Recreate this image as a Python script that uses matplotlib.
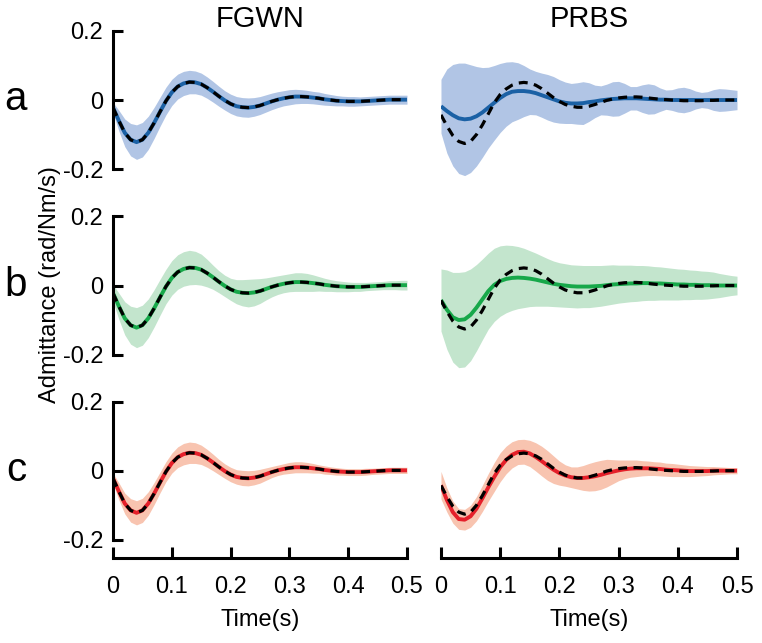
import matplotlib
matplotlib.use("Agg")
import matplotlib.pyplot as plt
import numpy as np

plt.rcParams['font.family'] = ['Liberation Sans', 'DejaVu Sans']
plt.rcParams['axes.unicode_minus'] = False

# time axis (s), 10 ms steps
t = np.linspace(0, 0.5, 51)

# true admittance (dashed), as drawn in each column
true_fgwn = [-0.022, -0.060, -0.095, -0.115, -0.122, -0.115, -0.095, -0.066, -0.034, -0.003,
             0.022, 0.039, 0.048, 0.052, 0.051, 0.046, 0.036, 0.024, 0.011, -0.001,
             -0.011, -0.018, -0.021, -0.022, -0.020, -0.016, -0.010, -0.004, 0.001, 0.005,
             0.008, 0.010, 0.010, 0.009, 0.007, 0.005, 0.002, 0.000, -0.002, -0.003,
             -0.004, -0.004, -0.004, -0.003, -0.002, -0.001, 0.000, 0.001, 0.001, 0.001, 0.001]
true_prbs = [-0.043, -0.075, -0.103, -0.120, -0.126, -0.120, -0.100, -0.072, -0.040, -0.008,
             0.016, 0.032, 0.043, 0.049, 0.051, 0.049, 0.043, 0.033, 0.020, 0.007,
             -0.004, -0.013, -0.018, -0.021, -0.021, -0.018, -0.013, -0.007, -0.001, 0.003,
             0.006, 0.008, 0.009, 0.009, 0.008, 0.006, 0.004, 0.002, 0.001, 0.000,
             -0.001, -0.002, -0.002, -0.002, -0.002, -0.001, -0.001, 0.000, 0.000, 0.000, 0.000]

# estimated admittance (solid); FGWN estimates lie on the true curve
est_fgwn_a = true_fgwn
est_fgwn_b = true_fgwn
est_fgwn_c = true_fgwn
est_prbs_a = [-0.018, -0.032, -0.044, -0.053, -0.056, -0.054, -0.047, -0.036, -0.022, -0.008,
              0.006, 0.017, 0.024, 0.026, 0.026, 0.024, 0.020, 0.014, 0.008, 0.002,
              -0.004, -0.008, -0.010, -0.010, -0.009, -0.006, -0.004, -0.001, 0.001, 0.003,
              0.004, 0.005, 0.005, 0.005, 0.004, 0.003, 0.002, 0.001, 0.001, 0.000,
              0.000, 0.000, 0.000, 0.000, 0.000, 0.000, 0.000, 0.000, 0.000, 0.000, 0.000]
est_prbs_b = [-0.042, -0.070, -0.092, -0.100, -0.098, -0.085, -0.064, -0.040, -0.016, 0.002,
              0.013, 0.019, 0.022, 0.023, 0.022, 0.020, 0.017, 0.013, 0.009, 0.005,
              0.002, 0.000, -0.002, -0.003, -0.003, -0.003, -0.002, -0.001, 0.001, 0.003,
              0.004, 0.005, 0.006, 0.006, 0.007, 0.007, 0.006, 0.006, 0.005, 0.004,
              0.003, 0.003, 0.002, 0.002, 0.001, 0.001, 0.001, 0.000, 0.000, 0.000, 0.000]
est_prbs_c = [-0.042, -0.085, -0.120, -0.140, -0.142, -0.132, -0.110, -0.080, -0.048, -0.018,
              0.010, 0.031, 0.046, 0.054, 0.055, 0.050, 0.040, 0.028, 0.015, 0.003,
              -0.007, -0.014, -0.019, -0.021, -0.021, -0.019, -0.016, -0.012, -0.007, -0.003,
              0.001, 0.004, 0.006, 0.007, 0.007, 0.007, 0.006, 0.005, 0.003, 0.002,
              0.001, 0.000, -0.001, -0.001, -0.001, -0.001, 0.000, 0.000, 0.000, 0.000, 0.000]

# half-width of the shaded band around each estimate
sd_fgwn_a = [0.015, 0.030, 0.040, 0.047, 0.050, 0.050, 0.048, 0.045, 0.042, 0.040,
             0.038, 0.036, 0.035, 0.034, 0.033, 0.032, 0.031, 0.030, 0.029, 0.028,
             0.028, 0.028, 0.028, 0.028, 0.027, 0.026, 0.025, 0.024, 0.023, 0.022,
             0.022, 0.021, 0.020, 0.019, 0.018, 0.018, 0.017, 0.016, 0.015, 0.014,
             0.014, 0.014, 0.013, 0.013, 0.013, 0.013, 0.013, 0.013, 0.013, 0.013, 0.013]
sd_fgwn_b = [0.025, 0.038, 0.048, 0.055, 0.058, 0.058, 0.056, 0.054, 0.052, 0.050,
             0.050, 0.050, 0.050, 0.050, 0.048, 0.045, 0.040, 0.035, 0.032, 0.031,
             0.032, 0.035, 0.038, 0.040, 0.039, 0.036, 0.032, 0.029, 0.027, 0.026,
             0.026, 0.027, 0.027, 0.026, 0.024, 0.021, 0.019, 0.017, 0.016, 0.015,
             0.014, 0.013, 0.013, 0.012, 0.012, 0.012, 0.012, 0.013, 0.013, 0.014, 0.014]
sd_fgwn_c = [0.015, 0.025, 0.030, 0.034, 0.035, 0.035, 0.034, 0.032, 0.030, 0.029,
             0.029, 0.030, 0.031, 0.031, 0.030, 0.028, 0.026, 0.024, 0.022, 0.021,
             0.021, 0.021, 0.022, 0.022, 0.021, 0.020, 0.018, 0.016, 0.015, 0.015,
             0.016, 0.016, 0.016, 0.015, 0.014, 0.012, 0.012, 0.011, 0.011, 0.010,
             0.010, 0.010, 0.010, 0.010, 0.009, 0.009, 0.009, 0.009, 0.009, 0.009, 0.009]
sd_prbs_a = [0.078, 0.122, 0.147, 0.160, 0.163, 0.156, 0.144, 0.130, 0.117, 0.108,
             0.100, 0.093, 0.087, 0.082, 0.074, 0.066, 0.063, 0.064, 0.066, 0.066,
             0.063, 0.060, 0.058, 0.060, 0.062, 0.056, 0.047, 0.042, 0.045, 0.050,
             0.050, 0.043, 0.034, 0.034, 0.040, 0.044, 0.042, 0.034, 0.028, 0.030,
             0.035, 0.037, 0.033, 0.026, 0.022, 0.024, 0.030, 0.033, 0.032, 0.030, 0.028]
sd_prbs_b = [0.090, 0.115, 0.130, 0.138, 0.138, 0.133, 0.125, 0.117, 0.110, 0.106,
             0.102, 0.098, 0.094, 0.090, 0.086, 0.081, 0.077, 0.073, 0.069, 0.066,
             0.064, 0.063, 0.062, 0.062, 0.061, 0.061, 0.060, 0.059, 0.058, 0.057,
             0.055, 0.054, 0.053, 0.052, 0.051, 0.050, 0.049, 0.048, 0.047, 0.046,
             0.045, 0.044, 0.043, 0.042, 0.041, 0.040, 0.038, 0.035, 0.032, 0.029, 0.027]
sd_prbs_c = [0.040, 0.035, 0.032, 0.030, 0.030, 0.032, 0.035, 0.038, 0.040, 0.042,
             0.042, 0.040, 0.038, 0.036, 0.036, 0.038, 0.041, 0.043, 0.043, 0.040,
             0.035, 0.031, 0.030, 0.032, 0.036, 0.040, 0.042, 0.042, 0.040, 0.035,
             0.030, 0.027, 0.025, 0.024, 0.022, 0.021, 0.020, 0.020, 0.019, 0.019,
             0.018, 0.017, 0.016, 0.015, 0.014, 0.013, 0.012, 0.011, 0.010, 0.009, 0.009]

row_labels = ['a', 'b', 'c']
col_titles = ['FGWN', 'PRBS']
line_colors = ['#1b61a5', '#17a84a', '#e5202a']
fill_colors = ['#b1c5e5', '#c3e5cd', '#f8c4b0']

panels = [
    [(true_fgwn, est_fgwn_a, sd_fgwn_a), (true_prbs, est_prbs_a, sd_prbs_a)],
    [(true_fgwn, est_fgwn_b, sd_fgwn_b), (true_prbs, est_prbs_b, sd_prbs_b)],
    [(true_fgwn, est_fgwn_c, sd_fgwn_c), (true_prbs, est_prbs_c, sd_prbs_c)],
]

fig = plt.figure(figsize=(7.62, 6.43), dpi=100)

col_x = [(0.1483, 0.3858), (0.5787, 0.3885)]
row_y = [0.7092, 0.4207, 0.1327]
ax_h = 0.2426

for r in range(3):
    for c in range(2):
        x0, w = col_x[c]
        ax = fig.add_axes([x0, row_y[r], w, ax_h])
        true, est, sd = panels[r][c]
        est = np.asarray(est)
        sd = np.asarray(sd)
        ax.fill_between(t, est - sd, est + sd, color=fill_colors[r], lw=0)
        ax.plot(t, est, color=line_colors[r], lw=2.8, solid_capstyle='butt')
        ax.plot(t, true, color='black', lw=2.3, dashes=(2.8, 2.0))

        ax.set_xlim(0, 0.5)
        ax.set_ylim(-0.252, 0.2)
        for s in ['top', 'right']:
            ax.spines[s].set_visible(False)

        if c == 0:
            ax.spines['left'].set_bounds(-0.2, 0.2)
            ax.spines['left'].set_linewidth(2.2)
            ax.set_yticks([-0.2, 0, 0.2])
            ax.set_yticklabels(['-0.2', '0', '0.2'])
            ax.tick_params(axis='y', direction='in', length=7, width=2.2,
                           labelsize=17, pad=7)
        else:
            ax.spines['left'].set_visible(False)
            ax.set_yticks([])

        if r == 2:
            ax.spines['bottom'].set_bounds(0, 0.5)
            ax.spines['bottom'].set_linewidth(2.2)
            ax.set_xticks([0, 0.1, 0.2, 0.3, 0.4, 0.5])
            ax.set_xticklabels(['0', '0.1', '0.2', '0.3', '0.4', '0.5'])
            ax.tick_params(axis='x', direction='in', length=8, width=2.2,
                           labelsize=17, pad=13)
            ax.set_xlabel('Time(s)', fontsize=17, labelpad=8)
        else:
            ax.spines['bottom'].set_visible(False)
            ax.set_xticks([])

for c in range(2):
    x0, w = col_x[c]
    fig.text(x0 + w / 2, 1 - 19 / 643, col_titles[c], fontsize=21,
             ha='center', va='center')

row_zero_px = [99, 285, 470]
for r in range(3):
    fig.text(16 / 762, 1 - row_zero_px[r] / 643, row_labels[r], fontsize=29,
             ha='center', va='center')

fig.text(50 / 762, 1 - 285 / 643, 'Admittance (rad/Nm/s)', fontsize=17,
         rotation=90, ha='center', va='center')

fig.savefig('out.png', dpi=100)
